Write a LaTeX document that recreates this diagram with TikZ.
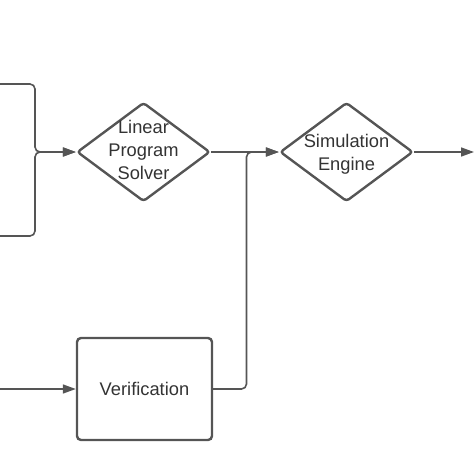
\documentclass[tikz,border=0pt]{standalone}
\usepackage{fontspec}
\setmainfont{Liberation Sans}
\usetikzlibrary{arrows.meta,shapes.geometric}
\definecolor{ln}{HTML}{555555}
\definecolor{tx}{HTML}{333333}
\begin{document}
\begin{tikzpicture}[x=1pt,y=-1pt,
  shapeline/.style={draw=ln,line width=2.4pt},
  dia/.style={shapeline,diamond,rounded corners=3pt,inner sep=0pt,minimum width=133pt,minimum height=99pt},
  box/.style={shapeline,rectangle,rounded corners=4pt,minimum width=135pt,minimum height=102pt,text=tx,font=\fontsize{18.3}{21}\selectfont},
  lbl/.style={align=center,text=tx,font=\fontsize{18.3}{22.7}\selectfont},
  conn/.style={draw=ln,line width=1.6pt,rounded corners=5pt},
  arr/.style={conn,-{Triangle[length=13pt,width=9pt]}}]
\useasboundingbox (0,0) rectangle (474,474);
\node[dia,label={[lbl,yshift=2pt]center:Linear\\Program\\Solver}] (lps) at (143.5,152) {};
\node[dia,label={[lbl,yshift=-2pt]center:Simulation\\Engine}] (sim) at (346.5,152) {};
\node[box] (ver) at (144.5,389) {Verification};
\coordinate (inA) at (0,84);
\coordinate (inB) at (0,236);
\coordinate (inC) at (0,389);
\coordinate (jA) at (35,152);
\coordinate (jB) at (246.5,152);
\coordinate (out) at (474,152);
\draw[arr] (inA) -| (jA) -- (lps.west);
\draw[arr] (inB) -| (jA) -- (lps.west);
\draw[arr] (lps.east) -- (sim.west);
\draw[arr] (ver.east) -| (jB) -- (sim.west);
\draw[arr] (sim.east) -- (out);
\draw[arr] (inC) -- (ver.west);
\end{tikzpicture}
\end{document}
